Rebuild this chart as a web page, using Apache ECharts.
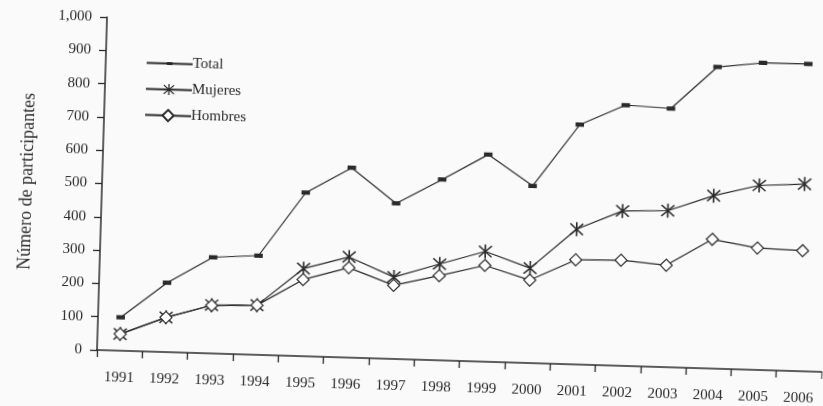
<!DOCTYPE html>
<html>
<head>
<meta charset="utf-8">
<script src="https://cdn.jsdelivr.net/npm/echarts@6/dist/echarts.min.js"></script>
<style>
  html, body { margin: 0; padding: 0; background: #fafafa; overflow: hidden; }
  /* the printed figure sits slightly turned on the page */
  #chart {
    width: 823px;
    height: 406px;
    transform: rotate(1.73deg);
    transform-origin: 97px 350px;
  }
</style>
</head>
<body>
<div id="chart"></div>
<script>
// Participantes por año (total, mujeres y hombres)
const years = ['1991','1992','1993','1994','1995','1996','1997','1998','1999','2000','2001','2002','2003','2004','2005','2006'];
const total   = [100, 208, 289, 298, 491, 570, 467, 543, 622, 532, 720, 783, 777, 906, 922, 923];
const mujeres = [50, 104, 145, 149, 263, 302, 246, 289, 331, 285, 406, 465, 470, 519, 554, 562];
const hombres = [50, 104, 144, 149, 230, 270, 221, 254, 289, 249, 314, 317, 306, 388, 366, 362];
const yTicks = [0, 100, 200, 300, 400, 500, 600, 700, 800, 900, 1000];

const ink = '#2a2a2a';
const serif = '"Liberation Serif", "DejaVu Serif", serif';

// six-armed asterisk marker
const asterisk = 'path://M9,0 L11,0 L11,20 L9,20 Z ' +
  'M1.3,2.7 L2.7,1.3 L18.7,17.3 L17.3,18.7 Z ' +
  'M17.3,1.3 L18.7,2.7 L2.7,18.7 L1.3,17.3 Z';
// flat 2:1 block centred in a square frame (corner points only set the frame)
const block = 'path://M0,0 L0.001,0 Z M4,4 L3.999,4 Z M1,1.5 L3,1.5 L3,2.5 L1,2.5 Z';

const lineStyle = { color: ink, width: 1.2 };

const chart = echarts.init(document.getElementById('chart'), null, { renderer: 'canvas' });
chart.setOption({
  backgroundColor: '#fafafa',
  animation: false,
  grid: { left: 97, right: 1, top: 17, bottom: 56 },
  legend: {
    orient: 'vertical',
    left: 132,
    top: 49,
    itemWidth: 46,
    itemHeight: 14,
    itemGap: 11,
    textStyle: { fontFamily: serif, fontSize: 15, color: ink, padding: [0, 0, 0, -5] },
    data: ['Total', 'Mujeres', 'Hombres']
  },
  xAxis: {
    type: 'category',
    data: years,
    boundaryGap: true,
    axisLine: { lineStyle: { color: ink, width: 1.5 } },
    axisTick: { show: true, length: 7, interval: 0, lineStyle: { color: ink, width: 1.3 } },
    axisLabel: { interval: 0, margin: 20, fontFamily: serif, fontSize: 15, color: ink }
  },
  yAxis: {
    type: 'value',
    min: yTicks[0],
    max: yTicks[yTicks.length - 1],
    interval: 100,
    name: 'Número de participantes',
    nameLocation: 'middle',
    nameGap: 66,
    nameTextStyle: { fontFamily: serif, fontSize: 18, color: ink },
    splitLine: { show: false },
    axisLine: { show: true, lineStyle: { color: ink, width: 1.5 } },
    axisTick: { show: true, length: 7, lineStyle: { color: ink, width: 1.3 } },
    axisLabel: {
      margin: 15,
      fontFamily: serif,
      fontSize: 15,
      color: ink,
      formatter: v => v >= 1000 ? (v / 1000) + ',' + String(v % 1000).padStart(3, '0') : String(v)
    }
  },
  series: [
    {
      name: 'Total',
      type: 'line',
      data: total,
      symbol: block,
      symbolSize: 17,
      lineStyle: lineStyle,
      itemStyle: { color: ink, borderWidth: 0 }
    },
    {
      name: 'Mujeres',
      type: 'line',
      data: mujeres,
      symbol: asterisk,
      symbolSize: 14,
      lineStyle: lineStyle,
      itemStyle: { color: ink, borderWidth: 0 }
    },
    {
      name: 'Hombres',
      type: 'line',
      data: hombres,
      symbol: 'diamond',
      symbolSize: 12,
      lineStyle: lineStyle,
      itemStyle: { color: '#ffffff', borderColor: ink, borderWidth: 1.2 }
    }
  ]
});
</script>
</body>
</html>
